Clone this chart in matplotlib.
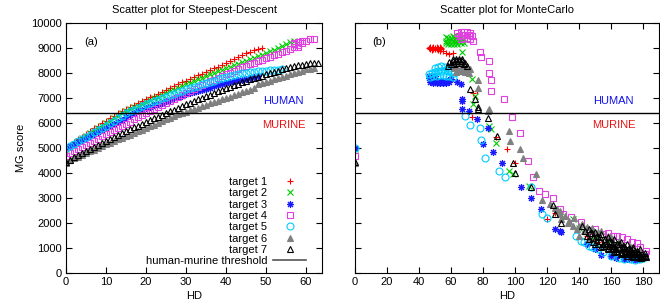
import numpy as np
import matplotlib
matplotlib.use("Agg")
import matplotlib.pyplot as plt
from matplotlib.lines import Line2D

plt.rcParams['font.family'] = ['Liberation Sans', 'DejaVu Sans']

labels = ["target 1", "target 2", "target 3", "target 4", "target 5", "target 6", "target 7"]
colors = ["#ff0000", "#00cc00", "#1a1aff", "#e040e0", "#00ccff", "#808080", "#000000"]
markers = ["+", "x", (8, 2, 0), "s", "o", "^", "^"]
filled = [False, False, False, False, False, True, False]
threshold = 6400

# steepest descent: score at HD = 0, 1, 2, ...
sd_1 = [5000, 5120, 5240, 5350, 5460, 5570, 5680, 5790, 5900, 6000, 6100, 6200, 6300, 6400, 6480, 6560, 6640,
        6720, 6800, 6880, 6950, 7030, 7100, 7180, 7250, 7330, 7400, 7480, 7550, 7630, 7700, 7770, 7840, 7910,
        7980, 8050, 8120, 8190, 8260, 8330, 8400, 8480, 8560, 8640, 8720, 8790, 8860, 8930, 8980, 9000]
sd_2 = [4950, 5060, 5170, 5280, 5390, 5500, 5600, 5700, 5800, 5900, 6000, 6100, 6200, 6300, 6400, 6480, 6550,
        6630, 6700, 6780, 6850, 6920, 6990, 7060, 7130, 7200, 7270, 7340, 7410, 7480, 7550, 7620, 7690, 7750,
        7820, 7880, 7950, 8010, 8070, 8140, 8200, 8260, 8320, 8380, 8440, 8500, 8560, 8620, 8680, 8740, 8800,
        8870, 8940, 9010, 9080, 9150, 9230, 9300]
sd_3 = [5000, 5080, 5160, 5240, 5320, 5400, 5480, 5560, 5640, 5720, 5800, 5890, 5970, 6060, 6140, 6230, 6310,
        6400, 6470, 6530, 6600, 6660, 6710, 6770, 6820, 6880, 6930, 6990, 7040, 7100, 7150, 7200, 7240, 7290,
        7330, 7380, 7420, 7470, 7510, 7560, 7600, 7640, 7670, 7710, 7740, 7780, 7810, 7850, 7880]
sd_4 = [4700, 4785, 4870, 4955, 5040, 5125, 5210, 5295, 5380, 5465, 5550, 5635, 5720, 5805, 5890, 5975, 6060,
        6145, 6230, 6315, 6400, 6480, 6560, 6640, 6720, 6800, 6880, 6960, 7040, 7120, 7200, 7280, 7360, 7440,
        7520, 7600, 7670, 7740, 7810, 7880, 7950, 8020, 8090, 8160, 8230, 8300, 8360, 8420, 8480, 8540, 8600,
        8660, 8720, 8780, 8840, 8900, 8960, 9050, 9130, 9220, 9300, 9350, 9350]
sd_5 = [5000, 5090, 5180, 5270, 5360, 5450, 5540, 5630, 5720, 5810, 5900, 6000, 6100, 6200, 6300, 6400, 6470,
        6540, 6610, 6680, 6750, 6810, 6870, 6930, 6990, 7050, 7110, 7170, 7230, 7290, 7350, 7400, 7450, 7500,
        7550, 7600, 7650, 7700, 7750, 7800, 7850, 7890, 7930, 7960, 8000, 8020, 8040, 8050, 8070, 8080, 8100,
        8110, 8120, 8140, 8150]
sd_6 = [4400, 4520, 4590, 4660, 4730, 4800, 4870, 4940, 5010, 5080, 5150, 5220, 5280, 5350, 5410, 5480, 5540,
        5610, 5670, 5740, 5800, 5870, 5940, 6010, 6080, 6150, 6220, 6290, 6350, 6400, 6450, 6510, 6570, 6620,
        6680, 6730, 6790, 6840, 6900, 6950, 7000, 7060, 7110, 7170, 7230, 7290, 7340, 7400, 7550, 7600, 7650,
        7700, 7750, 7800, 7850, 7900, 7950, 8000, 8050, 8100, 8150, 8180, 8200]
sd_7 = [4450, 4540, 4630, 4720, 4810, 4900, 4980, 5060, 5140, 5220, 5300, 5380, 5460, 5540, 5610, 5680, 5760,
        5830, 5900, 5980, 6050, 6120, 6190, 6260, 6330, 6400, 6470, 6540, 6610, 6680, 6750, 6820, 6880, 6950,
        7010, 7080, 7140, 7210, 7270, 7340, 7400, 7460, 7520, 7580, 7640, 7700, 7750, 7800, 7850, 7900, 7950,
        8000, 8050, 8100, 8150, 8200, 8250, 8280, 8310, 8340, 8370, 8390, 8410, 8420]
sd_extra_hd_4 = [57, 58, 58, 57, 59]
sd_extra_score_4 = [9150, 9250, 9050, 9200, 9300]

# monte carlo
mc_hd_1 = [0, 46, 47, 48, 49, 50, 51, 52, 53, 54, 48, 50, 52, 54, 47, 49, 51, 53, 55, 57, 59, 61,
           73, 74, 76, 88, 95, 100, 120, 125, 145, 152, 160, 168]
mc_score_1 = [5000, 9000, 9050, 9000, 9060, 9000, 9050, 9000, 9040, 9000, 8940, 8950, 8940, 8950, 8960, 8960,
              8960, 8900, 8900, 8800, 8780, 8800,
              6250, 7200, 7300, 5450, 4970, 4420, 2150, 2400, 1500, 1250, 1050, 900]
mc_hd_2 = [0, 57, 58, 60, 62, 64, 66, 68, 57, 59, 61, 63, 65, 67, 58, 60, 62, 64, 66, 68, 57, 61, 65,
           67, 73, 74, 75, 84, 85, 88, 96, 99, 109, 136, 140, 150, 158]
mc_score_2 = [4950, 9300, 9400, 9420, 9430, 9420, 9400, 9350, 9200, 9250, 9280, 9300, 9300, 9280, 9150, 9150,
              9170, 9180, 9200, 9200, 9450, 9480, 9470,
              8830, 7780, 6780, 7080, 5890, 5750, 5220, 4100, 3950, 3500, 2150, 1800, 1500, 1250]
mc_hd_3 = [0, 46, 48, 50, 52, 54, 56, 58, 60, 47, 49, 51, 53, 55, 57, 59, 46, 48, 50,
           64, 66, 67, 67, 67, 71, 76, 83, 80, 86, 92, 104, 110, 116, 125, 128, 129, 154, 145, 150, 160, 170, 176,
           163, 168, 174]
mc_score_3 = [5000, 7800, 7750, 7700, 7680, 7680, 7700, 7720, 7750, 7650, 7620, 7600, 7600, 7600, 7620, 7650,
              7900, 7900, 7880,
              7650, 7550, 6960, 6870, 6570, 6470, 6150, 5790, 5160, 4850, 4410, 3430, 2990, 2550, 1750, 1700,
              1650, 720, 1150, 950, 700, 560, 520,
              620, 560, 540]
mc_hd_4 = [0, 64, 66, 68, 70, 72, 65, 67, 69, 71, 73, 66, 68, 70, 72, 74,
           78, 79, 84, 84, 85, 85, 93, 98, 103, 108, 111, 115, 119, 124, 128, 130, 135, 141, 146, 155, 161, 167,
           173, 178, 181, 150, 158, 164, 170, 176, 182]
mc_score_4 = [4700, 9600, 9650, 9650, 9640, 9600, 9500, 9520, 9530, 9520, 9500, 9380, 9400, 9400, 9380, 9300,
              8830, 8650, 8490, 8020, 7740, 7290, 6980, 6250, 5590, 4480, 3850, 3300, 3180, 2990, 2570, 2370,
              2240, 2040, 1700, 1570, 1500, 1440, 1250, 1040, 750, 1750, 1620, 1500, 1380, 1200, 900]
mc_hd_5 = [0, 46, 48, 50, 52, 54, 56, 58, 60, 62, 47, 49, 51, 53, 55, 57, 59, 61, 50, 52, 54, 56, 58,
           69, 72, 78, 79, 81, 90, 94, 110, 117, 120, 138, 141, 146, 152, 160, 168, 175, 180,
           143, 148, 155, 165, 172, 178]
mc_score_5 = [5000, 7950, 8000, 8050, 8080, 8100, 8120, 8100, 8050, 8000, 7850, 7880, 7900, 7920, 7920, 7900,
              7880, 7850, 8200, 8250, 8270, 8250, 8200,
              6280, 5920, 5810, 5320, 4590, 4100, 3850, 3460, 2370, 2200, 1500, 1300, 1100, 950, 700, 580, 540, 600,
              1250, 1050, 850, 620, 560, 560]
mc_hd_6 = [0, 62, 64, 66, 68, 70, 72, 63, 65, 67, 69, 71,
           77, 77, 84, 83, 96, 97, 103, 105, 113, 117, 122, 126, 128, 129, 133, 137, 140, 143, 148, 152,
           158, 165, 172, 178, 182, 140, 147, 155, 162, 170, 176,
           125, 128, 131, 134, 136, 139, 142, 145, 150, 154, 160]
mc_score_6 = [4400, 8200, 8200, 8220, 8200, 8180, 8150, 8050, 8080, 8080, 8060, 8020,
              7710, 7390, 6570, 6470, 5690, 5270, 4960, 4590, 3970, 2910, 2750, 2550, 2370, 2170, 2000, 2200,
              1900, 1700, 1800, 1650, 1500, 1300, 1100, 900, 700, 1500, 1350, 1150, 1000, 850, 780,
              2600, 2500, 2300, 2100, 1900, 1750, 1950, 1850, 1600, 1700, 1450]
mc_hd_7 = [0, 58, 60, 62, 64, 66, 68, 70, 59, 61, 63, 65, 67, 69, 61, 63, 65, 67,
           72, 75, 77, 77, 83, 89, 99, 100, 110, 124, 125, 129,
           142, 146, 150, 154, 158, 162, 166, 170, 174, 178, 181,
           145, 149, 153, 157, 161, 165, 169, 173, 177, 180,
           150, 154, 158, 162, 166, 170, 174, 178, 182,
           147, 152, 156, 160, 164, 168, 172, 176, 155, 163, 171, 179,
           144, 148, 151, 153, 156, 159, 161, 164, 167, 169, 172, 175, 177, 180,
           146, 149, 152, 155, 158, 161, 164, 167, 170, 173, 176, 179,
           157, 160, 163, 166, 169, 172, 175, 178, 181,
           165, 168, 171, 174, 177]
mc_score_7 = [4450, 8300, 8350, 8380, 8400, 8390, 8350, 8300, 8450, 8480, 8500, 8500, 8480, 8420, 8550, 8580,
              8580, 8550,
              7350, 6950, 6630, 6560, 6190, 5490, 4390, 4020, 3450, 2720, 2350, 2000,
              1900, 1750, 1650, 1550, 1450, 1350, 1250, 1150, 1050, 950, 800,
              1500, 1400, 1300, 1200, 1100, 1000, 900, 850, 780, 700,
              1150, 1050, 950, 850, 780, 700, 650, 620, 650,
              1600, 1450, 1350, 1250, 1150, 1050, 980, 900, 1150, 950, 800, 700,
              1700, 1600, 1500, 1450, 1350, 1300, 1200, 1150, 1050, 1000, 900, 850, 800, 700,
              1350, 1250, 1150, 1100, 1000, 950, 900, 800, 750, 700, 650, 620,
              1100, 1000, 900, 850, 750, 750, 700, 650, 700,
              1150, 1100, 1000, 950, 850]

sd_scores = [sd_1, sd_2, sd_3, sd_4, sd_5, sd_6, sd_7]
mc_hds = [mc_hd_1, mc_hd_2, mc_hd_3, mc_hd_4, mc_hd_5, mc_hd_6, mc_hd_7]
mc_scores = [mc_score_1, mc_score_2, mc_score_3, mc_score_4, mc_score_5, mc_score_6, mc_score_7]

fig = plt.figure(figsize=(6.6, 3.05), dpi=100)
ax1 = fig.add_axes([66 / 660, 32 / 305, 256 / 660, 250 / 305])
ax2 = fig.add_axes([355 / 660, 32 / 305, 304 / 660, 250 / 305])


def style(c, m, f):
    return dict(ls="none", marker=m, ms=5, mew=0.8, mec=c, mfc=(c if f else "none"))


handles = []
for i in range(7):
    s = style(colors[i], markers[i], filled[i])
    h, = ax1.plot(np.arange(len(sd_scores[i])), sd_scores[i], label=labels[i], **s)
    if i == 3:
        ax1.plot(sd_extra_hd_4, sd_extra_score_4, **s)
    ax2.plot(mc_hds[i], mc_scores[i], **s)
    handles.append(h)

for ax in (ax1, ax2):
    ax.axhline(threshold, color="black", lw=1)
    ax.set_ylim(0, 10000)
    ax.set_yticks(np.arange(0, 10001, 1000))
    ax.tick_params(direction="in", length=4, width=0.8, top=True, right=True, labelsize=8, pad=3)
    ax.set_xlabel("HD", fontsize=8, labelpad=3)
    ax.text(0.85, 0.69, "HUMAN", transform=ax.transAxes, color="#1010ee", fontsize=8, ha="center", va="center")
    ax.text(0.85, 0.59, "MURINE", transform=ax.transAxes, color="#ee1010", fontsize=8, ha="center", va="center")
    for sp in ax.spines.values():
        sp.set_linewidth(0.8)

ax1.set_xlim(0, 64)
ax1.set_xticks(np.arange(0, 61, 10))
ax1.set_ylabel("MG score", fontsize=8, labelpad=4)
ax1.set_title("Scatter plot for Steepest-Descent", fontsize=8, pad=7)
ax1.text(0.07, 0.925, "(a)", transform=ax1.transAxes, fontsize=8, va="center")

ax2.set_xlim(0, 190)
ax2.set_xticks(np.arange(0, 181, 20))
ax2.tick_params(labelleft=False)
ax2.set_title("Scatter plot for MonteCarlo", fontsize=8, pad=7)
ax2.text(0.057, 0.925, "(b)", transform=ax2.transAxes, fontsize=8, va="center")

handles.append(Line2D([], [], color="#555555", lw=1.2))
ax1.legend(handles, labels + ["human-murine threshold"], loc="lower right", bbox_to_anchor=(0.96, 0.005),
           frameon=False, fontsize=8, markerfirst=False, handlelength=3, handletextpad=0.5,
           labelspacing=0.12, borderaxespad=0, borderpad=0.5)

fig.savefig("out.png", dpi=100)
